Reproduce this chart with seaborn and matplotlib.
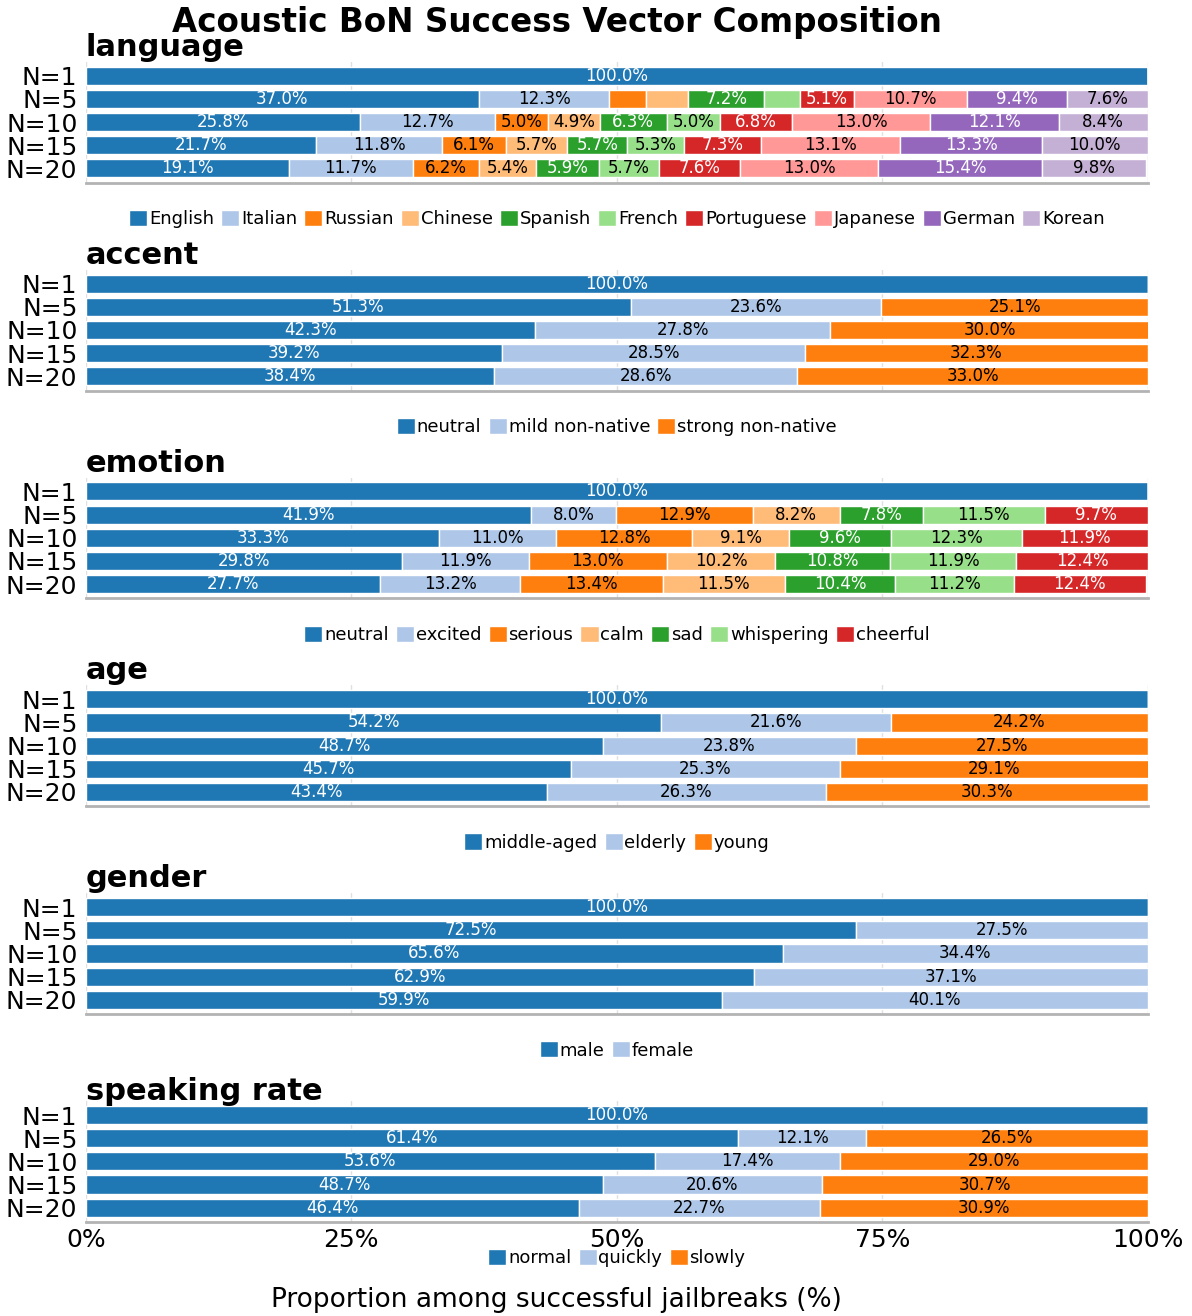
import numpy as np
import matplotlib
matplotlib.use("Agg")
import matplotlib.pyplot as plt
import seaborn as sns

# Rows (top to bottom)
n_labels = ["N=1", "N=5", "N=10", "N=15", "N=20"]

# language
language_cats = ["English", "Italian", "Russian", "Chinese", "Spanish", "French",
                 "Portuguese", "Japanese", "German", "Korean"]
language_vals = [
    [100.0, 0, 0, 0, 0, 0, 0, 0, 0, 0],
    [37.0, 12.3, 3.4, 4.0, 7.2, 3.3, 5.1, 10.7, 9.4, 7.6],
    [25.8, 12.7, 5.0, 4.9, 6.3, 5.0, 6.8, 13.0, 12.1, 8.4],
    [21.7, 11.8, 6.1, 5.7, 5.7, 5.3, 7.3, 13.1, 13.3, 10.0],
    [19.1, 11.7, 6.2, 5.4, 5.9, 5.7, 7.6, 13.0, 15.4, 9.8],
]

# accent
accent_cats = ["neutral", "mild non-native", "strong non-native"]
accent_vals = [
    [100.0, 0, 0],
    [51.3, 23.6, 25.1],
    [42.3, 27.8, 30.0],
    [39.2, 28.5, 32.3],
    [38.4, 28.6, 33.0],
]

# emotion
emotion_cats = ["neutral", "excited", "serious", "calm", "sad", "whispering", "cheerful"]
emotion_vals = [
    [100.0, 0, 0, 0, 0, 0, 0],
    [41.9, 8.0, 12.9, 8.2, 7.8, 11.5, 9.7],
    [33.3, 11.0, 12.8, 9.1, 9.6, 12.3, 11.9],
    [29.8, 11.9, 13.0, 10.2, 10.8, 11.9, 12.4],
    [27.7, 13.2, 13.4, 11.5, 10.4, 11.2, 12.4],
]

# age
age_cats = ["middle-aged", "elderly", "young"]
age_vals = [
    [100.0, 0, 0],
    [54.2, 21.6, 24.2],
    [48.7, 23.8, 27.5],
    [45.7, 25.3, 29.1],
    [43.4, 26.3, 30.3],
]

# gender
gender_cats = ["male", "female"]
gender_vals = [
    [100.0, 0],
    [72.5, 27.5],
    [65.6, 34.4],
    [62.9, 37.1],
    [59.9, 40.1],
]

# speaking rate
rate_cats = ["normal", "quickly", "slowly"]
rate_vals = [
    [100.0, 0, 0],
    [61.4, 12.1, 26.5],
    [53.6, 17.4, 29.0],
    [48.7, 20.6, 30.7],
    [46.4, 22.7, 30.9],
]

panels = [
    ("language", language_cats, language_vals),
    ("accent", accent_cats, accent_vals),
    ("emotion", emotion_cats, emotion_vals),
    ("age", age_cats, age_vals),
    ("gender", gender_cats, gender_vals),
    ("speaking rate", rate_cats, rate_vals),
]

sns.set_theme(style="whitegrid")
plt.rcParams["font.family"] = ["DejaVu Sans"]
for k in ["text.color", "axes.labelcolor", "xtick.color", "ytick.color"]:
    plt.rcParams[k] = "black"
palette = sns.color_palette("tab20", 10)

fig, axes = plt.subplots(len(panels), 1, figsize=(11.92, 13.16), dpi=100, sharex=True)
fig.subplots_adjust(left=0.072, right=0.963, top=0.953, bottom=0.0714, hspace=0.719)

y = np.arange(len(n_labels))
for ax, (name, cats, vals) in zip(axes, panels):
    vals = np.array(vals, dtype=float)
    left = np.zeros(len(n_labels))
    for j, cat in enumerate(cats):
        col = palette[j]
        w = vals[:, j]
        ax.barh(y, w, left=left, height=0.78, color=col, edgecolor="white",
                linewidth=1, label=cat, zorder=3)
        # white text on dark segments, black on light ones
        lum = 0.299 * col[0] + 0.587 * col[1] + 0.114 * col[2]
        tc = "white" if lum < 0.5 else "black"
        for i in range(len(n_labels)):
            if w[i] >= 4.5:
                ax.text(left[i] + w[i] / 2, y[i], f"{w[i]:.1f}%", ha="center", va="center",
                        fontsize=12, color=tc, zorder=4)
        left += w
    ax.set_xlim(0, 100)
    ax.set_ylim(4.62, -0.6)
    ax.set_yticks(y)
    ax.set_yticklabels(n_labels, fontsize=18)
    ax.tick_params(axis="y", pad=6, length=0)
    ax.grid(axis="y", visible=False)
    ax.grid(axis="x", color=".88", linewidth=1)
    for s in ["top", "right", "left"]:
        ax.spines[s].set_visible(False)
    ax.spines["bottom"].set_color(".7")
    ax.spines["bottom"].set_linewidth(2)
    ax.set_title(name, loc="left", fontsize=22, fontweight="bold", pad=1)
    ax.legend(loc="center", bbox_to_anchor=(0.5, -0.3), ncol=len(cats), frameon=False,
              fontsize=13, handlelength=1.0, handleheight=1.0, handletextpad=0.1,
              columnspacing=0.4, borderaxespad=0)

axes[-1].set_xticks([0, 25, 50, 75, 100])
axes[-1].set_xticklabels(["0%", "25%", "50%", "75%", "100%"], fontsize=18)
axes[-1].tick_params(axis="x", pad=4, length=0)

fig.suptitle("Acoustic BoN Success Vector Composition", x=0.467, y=0.983, va="center",
             fontsize=23.5, fontweight="bold")
fig.text(0.467, 0.012, "Proportion among successful jailbreaks (%)", ha="center", va="center",
         fontsize=19)

fig.savefig("out.png", dpi=100)
